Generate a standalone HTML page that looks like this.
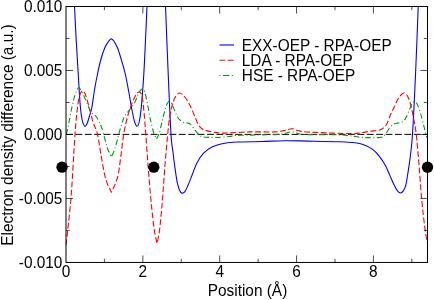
<!DOCTYPE html>
<html><head><meta charset="utf-8"><title>plot</title>
<style>
html,body{margin:0;padding:0;background:#fff;}
body{width:434px;height:300px;position:relative;overflow:hidden;font-family:"Liberation Sans",sans-serif;}
.tw{position:absolute;left:0;top:0;width:434px;height:300px;will-change:transform;}
.t{position:absolute;font-size:15.4px;line-height:17px;color:#000;white-space:nowrap;transform:scaleY(1.025);transform-origin:0 13.6px;}
.yl{position:absolute;left:0;top:0;width:30px;height:300px;will-change:transform;}
.yl span{position:absolute;left:13.4px;top:134.5px;display:block;white-space:nowrap;font-size:15.4px;line-height:17px;transform:translate(-50%,-13.6px) rotate(-90deg) scaleY(1.025);transform-origin:50% 13.6px;}
</style></head><body>
<svg width="434" height="300" viewBox="0 0 434 300" style="position:absolute;left:0;top:0">
<defs><clipPath id="cp"><rect x="65.50" y="6.20" width="362.50" height="256.55"/></clipPath></defs>
<line x1="66.00" y1="134.37" x2="427.50" y2="134.37" stroke="#000" stroke-width="1.0" stroke-dasharray="6.9 2.5"/>
<g clip-path="url(#cp)" fill="none" stroke-linejoin="round">
<path d="M74.00,-10.00 C74.08,-7.33 74.13,-2.33 74.50,6.00 C74.87,14.33 75.57,28.50 76.20,40.00 C76.83,51.50 77.63,64.17 78.30,75.00 C78.97,85.83 79.55,97.50 80.20,105.00 C80.85,112.50 81.43,116.46 82.20,120.00 C82.97,123.54 83.95,125.75 84.80,126.25 C85.65,126.75 86.52,124.71 87.30,123.00 C88.08,121.29 88.76,118.50 89.50,116.00 C90.24,113.50 90.92,112.33 91.75,108.00 C92.58,103.67 93.58,95.50 94.50,90.00 C95.42,84.50 96.22,80.17 97.30,75.00 C98.38,69.83 99.72,63.62 101.00,59.00 C102.28,54.38 103.83,50.10 105.00,47.30 C106.17,44.50 107.20,43.43 108.00,42.20 C108.80,40.97 109.25,40.48 109.80,39.90 C110.35,39.32 111.05,38.90 111.30,38.70 C111.55,38.90 112.25,39.32 112.80,39.90 C113.35,40.48 113.73,40.68 114.60,42.20 C115.47,43.72 116.77,45.70 118.00,49.00 C119.23,52.30 120.75,57.67 122.00,62.00 C123.25,66.33 124.33,69.83 125.50,75.00 C126.67,80.17 127.92,87.17 129.00,93.00 C130.08,98.83 131.08,105.25 132.00,110.00 C132.92,114.75 133.67,118.79 134.50,121.50 C135.33,124.21 136.20,126.25 137.00,126.25 C137.80,126.25 138.58,124.71 139.30,121.50 C140.02,118.29 140.56,114.75 141.30,107.00 C142.04,99.25 143.05,86.17 143.75,75.00 C144.45,63.83 144.96,51.50 145.50,40.00 C146.04,28.50 146.65,14.33 147.00,6.00 C147.35,-2.33 147.50,-7.33 147.60,-10.00" stroke="#0000ff" stroke-width="1.1"/>
<path d="M164.90,-10.00 C165.00,-7.33 164.94,-8.17 165.50,6.00 C166.06,20.17 167.33,53.62 168.25,75.00 C169.17,96.38 170.21,121.37 171.00,134.25 C171.79,147.13 172.30,146.39 173.00,152.30 C173.70,158.21 174.48,164.63 175.20,169.70 C175.92,174.77 176.58,179.27 177.30,182.70 C178.02,186.12 178.73,188.52 179.50,190.25 C180.27,191.98 181.00,192.88 181.90,193.10 C182.80,193.32 183.85,192.98 184.90,191.60 C185.95,190.22 186.93,187.73 188.20,184.80 C189.47,181.87 191.07,177.60 192.50,174.00 C193.93,170.40 195.00,166.63 196.80,163.20 C198.60,159.77 200.77,156.12 203.30,153.40 C205.83,150.68 208.38,148.60 212.00,146.90 C215.62,145.20 220.67,144.02 225.00,143.20 C229.33,142.38 231.83,142.28 238.00,142.00 C244.17,141.72 254.23,141.72 262.00,141.50 C269.77,141.28 276.93,140.77 284.60,140.70 C292.27,140.63 298.77,140.92 308.00,141.10 C317.23,141.28 332.17,141.52 340.00,141.80 C347.83,142.08 351.05,142.31 355.00,142.80 C358.95,143.29 360.82,143.70 363.70,144.75 C366.58,145.80 369.78,147.29 372.30,149.10 C374.82,150.91 376.63,152.90 378.80,155.60 C380.97,158.30 383.48,162.05 385.30,165.30 C387.12,168.55 388.25,171.85 389.70,175.10 C391.15,178.35 392.74,182.22 394.00,184.80 C395.26,187.38 396.17,189.23 397.25,190.60 C398.33,191.97 399.46,193.00 400.50,193.00 C401.54,193.00 402.60,191.97 403.50,190.60 C404.40,189.23 405.13,187.93 405.90,184.80 C406.67,181.67 407.38,176.48 408.10,171.80 C408.83,167.12 409.52,162.96 410.25,156.70 C410.98,150.44 411.62,147.87 412.50,134.25 C413.38,120.63 414.54,96.38 415.50,75.00 C416.46,53.62 417.68,20.17 418.25,6.00 C418.82,-8.17 418.79,-7.33 418.90,-10.00" stroke="#0000ff" stroke-width="1.1"/>
<path d="M66.10,245.00 C66.33,242.83 66.64,240.33 67.50,232.00 C68.36,223.67 70.00,211.29 71.25,195.00 C72.50,178.71 73.91,149.25 75.00,134.25 C76.09,119.25 76.97,111.62 77.80,105.00 C78.63,98.38 79.22,96.83 80.00,94.50 C80.78,92.17 81.63,91.08 82.50,91.00 C83.37,90.92 84.15,91.50 85.20,94.00 C86.25,96.50 87.50,101.33 88.80,106.00 C90.10,110.67 91.55,117.29 93.00,122.00 C94.45,126.71 96.17,128.75 97.50,134.25 C98.83,139.75 99.83,148.38 101.00,155.00 C102.17,161.62 103.50,169.38 104.50,174.00 C105.50,178.62 106.18,180.37 107.00,182.70 C107.82,185.03 108.67,186.42 109.40,188.00 C110.13,189.58 111.07,191.50 111.40,192.20 C111.73,191.50 112.63,189.70 113.40,188.00 C114.17,186.30 115.15,184.50 116.00,182.00 C116.85,179.50 117.67,177.50 118.50,173.00 C119.33,168.50 120.12,161.46 121.00,155.00 C121.88,148.54 122.58,140.92 123.75,134.25 C124.92,127.58 126.46,120.54 128.00,115.00 C129.54,109.46 131.58,104.50 133.00,101.00 C134.42,97.50 135.42,95.50 136.50,94.00 C137.58,92.50 138.58,91.67 139.50,92.00 C140.42,92.33 141.25,92.67 142.00,96.00 C142.75,99.33 143.37,105.62 144.00,112.00 C144.63,118.38 145.13,125.42 145.80,134.25 C146.47,143.08 147.09,153.54 148.00,165.00 C148.91,176.46 150.25,192.50 151.25,203.00 C152.25,213.50 153.28,222.33 154.00,228.00 C154.72,233.67 155.10,234.45 155.60,237.00 C156.10,239.55 156.77,242.25 157.00,243.30 C157.23,242.25 157.93,239.55 158.40,237.00 C158.87,234.45 159.17,233.67 159.80,228.00 C160.43,222.33 161.33,213.50 162.20,203.00 C163.07,192.50 164.08,176.46 165.00,165.00 C165.92,153.54 166.87,142.58 167.70,134.25 C168.53,125.92 169.03,120.54 170.00,115.00 C170.97,109.46 172.38,104.33 173.50,101.00 C174.62,97.67 175.68,96.33 176.70,95.00 C177.72,93.67 178.55,93.00 179.60,93.00 C180.65,93.00 181.77,93.83 183.00,95.00 C184.23,96.17 185.67,97.92 187.00,100.00 C188.33,102.08 189.67,104.67 191.00,107.50 C192.33,110.33 193.75,114.08 195.00,117.00 C196.25,119.92 197.33,123.03 198.50,125.00 C199.67,126.97 200.75,127.87 202.00,128.80 C203.25,129.73 203.83,130.00 206.00,130.60 C208.17,131.20 211.83,131.98 215.00,132.40 C218.17,132.82 219.17,133.18 225.00,133.10 C230.83,133.02 241.73,132.10 250.00,131.90 C258.27,131.70 268.93,132.12 274.60,131.90 C280.27,131.68 281.10,131.13 284.00,130.60 C286.90,130.07 289.33,128.62 292.00,128.70 C294.67,128.78 296.17,130.48 300.00,131.10 C303.83,131.72 306.33,131.98 315.00,132.40 C323.67,132.82 344.17,133.57 352.00,133.60 C359.83,133.63 359.07,132.98 362.00,132.60 C364.93,132.22 367.02,131.67 369.60,131.30 C372.18,130.93 375.43,130.78 377.50,130.40 C379.57,130.02 380.50,129.98 382.00,129.00 C383.50,128.02 385.17,126.67 386.50,124.50 C387.83,122.33 388.79,118.75 390.00,116.00 C391.21,113.25 392.42,110.83 393.75,108.00 C395.08,105.17 396.71,101.25 398.00,99.00 C399.29,96.75 400.42,95.50 401.50,94.50 C402.58,93.50 403.50,92.75 404.50,93.00 C405.50,93.25 406.50,94.17 407.50,96.00 C408.50,97.83 409.50,100.33 410.50,104.00 C411.50,107.67 412.54,112.96 413.50,118.00 C414.46,123.04 415.33,126.42 416.25,134.25 C417.17,142.08 418.08,154.04 419.00,165.00 C419.92,175.96 420.83,190.00 421.75,200.00 C422.67,210.00 423.59,217.83 424.50,225.00 C425.41,232.17 426.75,240.00 427.20,243.00" stroke="#ff0000" stroke-width="1.1" stroke-dasharray="5.8 2.5"/>
<path d="M66.30,134.50 C66.75,132.42 68.05,126.58 69.00,122.00 C69.95,117.42 71.00,111.50 72.00,107.00 C73.00,102.50 73.90,98.20 75.00,95.00 C76.10,91.80 77.60,88.55 78.60,87.80 C79.60,87.05 80.27,89.47 81.00,90.50 C81.73,91.53 82.33,92.67 83.00,94.00 C83.67,95.33 84.33,97.00 85.00,98.50 C85.67,100.00 86.33,101.42 87.00,103.00 C87.67,104.58 88.42,106.67 89.00,108.00 C89.58,109.33 89.92,110.08 90.50,111.00 C91.08,111.92 91.83,112.83 92.50,113.50 C93.17,114.17 93.83,114.42 94.50,115.00 C95.17,115.58 95.75,115.92 96.50,117.00 C97.25,118.08 98.25,120.00 99.00,121.50 C99.75,123.00 100.33,124.25 101.00,126.00 C101.67,127.75 102.33,129.75 103.00,132.00 C103.67,134.25 104.33,137.00 105.00,139.50 C105.67,142.00 106.33,144.92 107.00,147.00 C107.67,149.08 108.27,150.35 109.00,152.00 C109.73,153.65 111.00,156.08 111.40,156.90 C111.77,156.08 112.83,153.98 113.60,152.00 C114.37,150.02 115.14,147.96 116.00,145.00 C116.86,142.04 117.75,137.92 118.75,134.25 C119.75,130.58 121.04,125.96 122.00,123.00 C122.96,120.04 123.58,118.25 124.50,116.50 C125.42,114.75 126.42,113.92 127.50,112.50 C128.58,111.08 129.83,109.58 131.00,108.00 C132.17,106.42 133.42,105.00 134.50,103.00 C135.58,101.00 136.53,98.07 137.50,96.00 C138.47,93.93 139.45,91.80 140.30,90.60 C141.15,89.40 141.85,88.57 142.60,88.80 C143.35,89.03 144.02,89.63 144.80,92.00 C145.58,94.37 146.35,98.33 147.30,103.00 C148.25,107.67 149.45,115.08 150.50,120.00 C151.55,124.92 152.82,129.80 153.60,132.50 C154.38,135.20 154.70,135.12 155.20,136.20 C155.70,137.28 156.37,138.53 156.60,139.00 C156.83,138.53 157.55,137.20 158.00,136.20 C158.45,135.20 158.63,135.37 159.30,133.00 C159.97,130.63 161.05,125.83 162.00,122.00 C162.95,118.17 164.08,113.17 165.00,110.00 C165.92,106.83 166.75,104.46 167.50,103.00 C168.25,101.54 168.75,101.08 169.50,101.25 C170.25,101.42 171.08,102.29 172.00,104.00 C172.92,105.71 173.92,109.08 175.00,111.50 C176.08,113.92 177.04,116.67 178.50,118.50 C179.96,120.33 182.33,121.75 183.75,122.50 C185.17,123.25 185.96,122.77 187.00,123.00 C188.04,123.23 188.92,123.07 190.00,123.90 C191.08,124.73 192.04,126.18 193.50,128.00 C194.96,129.82 197.17,133.33 198.75,134.80 C200.33,136.27 201.29,136.37 203.00,136.80 C204.71,137.23 206.83,137.28 209.00,137.40 C211.17,137.52 213.33,137.57 216.00,137.50 C218.67,137.43 222.33,137.23 225.00,137.00 C227.67,136.77 229.50,136.38 232.00,136.10 C234.50,135.82 232.90,135.55 240.00,135.30 C247.10,135.05 267.27,134.90 274.60,134.60 C281.93,134.30 281.10,133.95 284.00,133.50 C286.90,133.05 289.33,131.82 292.00,131.90 C294.67,131.98 297.33,133.55 300.00,134.00 C302.67,134.45 301.33,134.45 308.00,134.60 C314.67,134.75 331.00,134.43 340.00,134.90 C349.00,135.37 356.67,136.95 362.00,137.40 C367.33,137.85 368.70,137.62 372.00,137.60 C375.30,137.58 379.55,137.90 381.80,137.30 C384.05,136.70 384.13,135.63 385.50,134.00 C386.87,132.37 388.63,129.15 390.00,127.50 C391.37,125.85 392.32,124.85 393.70,124.10 C395.08,123.35 396.92,123.35 398.30,123.00 C399.68,122.65 400.78,122.77 402.00,122.00 C403.22,121.23 404.38,120.38 405.60,118.40 C406.82,116.42 408.23,112.52 409.30,110.10 C410.37,107.68 411.15,105.30 412.00,103.90 C412.85,102.50 413.48,101.57 414.40,101.70 C415.32,101.83 416.37,102.38 417.50,104.70 C418.63,107.02 420.12,111.95 421.20,115.60 C422.28,119.25 423.23,123.53 424.00,126.60 C424.77,129.67 425.27,132.10 425.80,134.00 C426.33,135.90 426.97,137.33 427.20,138.00" stroke="#009a00" stroke-width="1.1" stroke-dasharray="5.5 2.6 1 2.5"/>
</g>
<rect x="66.00" y="6.50" width="361.50" height="255.95" fill="none" stroke="#000" stroke-width="1"/>
<path d="M104.42,262.45 v-3.70 M104.42,6.50 v3.70 M142.85,262.45 v-7.00 M142.85,6.50 v7.00 M181.27,262.45 v-3.70 M181.27,6.50 v3.70 M219.70,262.45 v-7.00 M219.70,6.50 v7.00 M258.12,262.45 v-3.70 M258.12,6.50 v3.70 M296.55,262.45 v-7.00 M296.55,6.50 v7.00 M334.97,262.45 v-3.70 M334.97,6.50 v3.70 M373.40,262.45 v-7.00 M373.40,6.50 v7.00 M411.82,262.45 v-3.70 M411.82,6.50 v3.70 M66.00,38.49 h3.70 M427.50,38.49 h-3.70 M66.00,70.49 h7.00 M427.50,70.49 h-7.00 M66.00,102.48 h3.70 M427.50,102.48 h-3.70 M66.00,134.47 h7.00 M427.50,134.47 h-7.00 M66.00,166.47 h3.70 M427.50,166.47 h-3.70 M66.00,198.46 h7.00 M427.50,198.46 h-7.00 M66.00,230.46 h3.70 M427.50,230.46 h-3.70" stroke="#000" stroke-width="0.7" fill="none"/>
<circle cx="62.00" cy="167.2" r="5.65" fill="#000"/>
<circle cx="153.80" cy="167.2" r="5.65" fill="#000"/>
<circle cx="427.50" cy="167.2" r="5.65" fill="#000"/>
<line x1="219.5" y1="45" x2="234" y2="45" stroke="#0000ff" stroke-width="1.1"/>
<line x1="219.5" y1="60.2" x2="234" y2="60.2" stroke="#ff0000" stroke-width="1.1" stroke-dasharray="5.8 2.4"/>
<line x1="219.5" y1="75.5" x2="234" y2="75.5" stroke="#009a00" stroke-width="1.1" stroke-dasharray="1 2.5 6.3 2.5"/>
</svg>
<div class="tw">
<div class="t" style="top:36.50px;left:241.80px;">EXX-OEP - RPA-OEP</div>
<div class="t" style="top:51.80px;left:241.80px;">LDA - RPA-OEP</div>
<div class="t" style="top:67.10px;left:241.80px;">HSE - RPA-OEP</div>
<div class="t" style="top:-1.63px;right:371.60px;">0.010</div>
<div class="t" style="top:62.37px;right:371.60px;">0.005</div>
<div class="t" style="top:126.37px;right:371.60px;">0.000</div>
<div class="t" style="top:190.37px;right:371.60px;">-0.005</div>
<div class="t" style="top:254.37px;right:371.60px;">-0.010</div>
<div class="t" style="top:263.10px;left:16.00px;width:100px;text-align:center;">0</div>
<div class="t" style="top:263.10px;left:92.85px;width:100px;text-align:center;">2</div>
<div class="t" style="top:263.10px;left:169.70px;width:100px;text-align:center;">4</div>
<div class="t" style="top:263.10px;left:246.55px;width:100px;text-align:center;">6</div>
<div class="t" style="top:263.10px;left:323.40px;width:100px;text-align:center;">8</div>
<div class="t" style="top:281.60px;left:197.50px;width:100px;text-align:center;width:200px;margin-left:-50px;">Position (&Aring;)</div>
</div>
<div class="yl"><span>Electron density difference (a.u.)</span></div>
</body></html>
